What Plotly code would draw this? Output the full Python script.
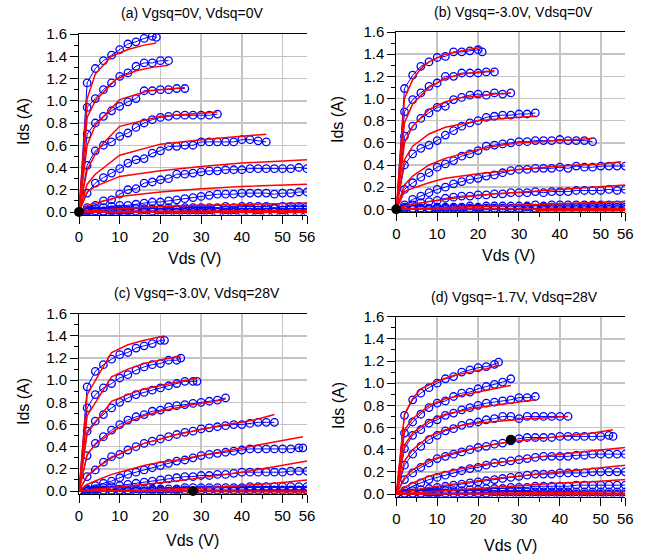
import plotly.graph_objects as go

# ---------------- data ----------------
VDS_GRID = [0, 2, 4, 6, 8, 10, 12, 14, 16, 18, 20, 22, 24, 26, 28, 30,
            32, 34, 36, 38, 40, 42, 44, 46, 48, 50, 52, 54, 56]
X_TICKS = [0, 10, 20, 30, 40, 50, 56]
Y_TICKS = [0.0, 0.2, 0.4, 0.6, 0.8, 1.0, 1.2, 1.4, 1.6]

TITLES = ["(a) Vgsq=0V, Vdsq=0V", "(b) Vgsq=-3.0V, Vdsq=0V",
          "(c) Vgsq=-3.0V, Vdsq=28V", "(d) Vgsq=-1.7V, Vdsq=28V"]
Q_VDS = [0, 0, 28, 28]
Q_IDS = [0.0, 0.0, 0.0, 0.49]

# ---- panel (a) ----
A_LAST = [19, 22, 26, 34, 46, 56, 56, 56, 56, 56]
A_MEAS = [
    [0, 1.16, 1.29, 1.36, 1.41, 1.46, 1.51, 1.53, 1.56, 1.58, 1.57],
    [0, 0.94, 1.02, 1.10, 1.16, 1.22, 1.25, 1.31, 1.34, 1.34, 1.36, 1.36],
    [0, 0.70, 0.80, 0.86, 0.91, 0.95, 0.99, 1.02, 1.09, 1.09, 1.10, 1.10, 1.11, 1.11],
    [0, 0.42, 0.55, 0.60, 0.63, 0.68, 0.71, 0.76, 0.80, 0.83, 0.85, 0.86, 0.87, 0.87,
     0.87, 0.87, 0.87, 0.88],
    [0, 0.17, 0.26, 0.31, 0.35, 0.39, 0.44, 0.47, 0.48, 0.53, 0.55, 0.59, 0.59, 0.60,
     0.60, 0.63, 0.63, 0.63, 0.63, 0.63, 0.65, 0.65, 0.64, 0.63],
    [0, 0.04, 0.06, 0.10, 0.11, 0.16, 0.20, 0.21, 0.26, 0.27, 0.29, 0.30, 0.34, 0.34,
     0.35, 0.36, 0.37, 0.37, 0.38, 0.38, 0.38, 0.39, 0.39, 0.39, 0.39, 0.39, 0.39, 0.40, 0.39],
    [0, 0.02, 0.03, 0.04, 0.05, 0.06, 0.06, 0.07, 0.08, 0.09, 0.09, 0.10, 0.11, 0.12,
     0.13, 0.14, 0.15, 0.16, 0.16, 0.16, 0.17, 0.17, 0.17, 0.17, 0.16, 0.17, 0.17, 0.18, 0.18],
    [0, 0.01, 0.01, 0.01, 0.02, 0.02, 0.02, 0.03, 0.03, 0.03, 0.03, 0.04, 0.03, 0.04,
     0.04, 0.04, 0.04, 0.04, 0.05, 0.04, 0.05, 0.05, 0.05, 0.05, 0.04, 0.05, 0.05, 0.05, 0.05],
    [0, 0.0, 0.01, 0.0, 0.01, 0.01, 0.01, 0.01, 0.02, 0.01, 0.02, 0.02, 0.02, 0.02,
     0.02, 0.02, 0.02, 0.03, 0.02, 0.02, 0.03, 0.03, 0.02, 0.03, 0.03, 0.02, 0.03, 0.03, 0.03],
    [0, 0.0, 0.0, 0.0, 0.0, 0.0, 0.0, 0.0, 0.0, 0.0, 0.0, 0.0, 0.0, 0.0,
     0.0, 0.0, 0.0, 0.0, 0.0, 0.0, 0.0, 0.0, 0.0, 0.0, 0.0, 0.0, 0.0, 0.0, 0.0],
]
A_MODEL_V = [
    [0, 2, 4, 8, 12, 16, 19],
    [0, 2, 4, 9, 14, 18, 22],
    [0, 2, 4, 10, 17, 26],
    [0, 2, 4, 6, 10, 20, 34],
    [0, 2, 4, 10, 20, 30, 46],
    [0, 2, 4, 10, 20, 30, 40, 56],
    [0, 2, 10, 20, 30, 40, 56],
    [0, 2, 10, 20, 30, 40, 56],
    [0, 10, 56],
    [0, 56],
]
A_MODEL_I = [
    [0, 1.02, 1.24, 1.40, 1.46, 1.50, 1.52],
    [0, 0.85, 1.00, 1.19, 1.27, 1.30, 1.32],
    [0, 0.60, 0.78, 1.01, 1.09, 1.12],
    [0, 0.38, 0.52, 0.62, 0.77, 0.86, 0.90],
    [0, 0.25, 0.34, 0.51, 0.61, 0.65, 0.70],
    [0, 0.18, 0.23, 0.32, 0.37, 0.41, 0.44, 0.47],
    [0, 0.06, 0.14, 0.18, 0.21, 0.23, 0.25],
    [0, 0.01, 0.03, 0.05, 0.06, 0.07, 0.08],
    [0, 0.005, 0.015],
    [0, -0.005],
]

# ---- panel (b) ----
B_LAST = [21, 24, 28, 34, 48, 56, 56, 56, 56, 56]
B_MEAS = [
    [0, 1.09, 1.21, 1.29, 1.33, 1.37, 1.38, 1.42, 1.42, 1.43, 1.44, 1.42],
    [0, 0.88, 0.99, 1.05, 1.11, 1.14, 1.20, 1.20, 1.23, 1.23, 1.23, 1.24, 1.24],
    [0, 0.66, 0.75, 0.82, 0.87, 0.92, 0.93, 0.99, 1.01, 1.03, 1.04, 1.03, 1.05, 1.04, 1.05],
    [0, 0.40, 0.50, 0.55, 0.58, 0.62, 0.67, 0.71, 0.75, 0.78, 0.80, 0.83, 0.84, 0.85,
     0.85, 0.86, 0.86, 0.87],
    [0, 0.18, 0.24, 0.29, 0.33, 0.38, 0.41, 0.44, 0.48, 0.50, 0.53, 0.57, 0.58, 0.59,
     0.60, 0.61, 0.61, 0.62, 0.62, 0.62, 0.63, 0.62, 0.62, 0.62, 0.61],
    [0, 0.04, 0.09, 0.12, 0.15, 0.18, 0.20, 0.23, 0.25, 0.27, 0.28, 0.30, 0.31, 0.33,
     0.35, 0.36, 0.36, 0.37, 0.37, 0.37, 0.38, 0.37, 0.39, 0.38, 0.38, 0.39, 0.39, 0.39, 0.39],
    [0, 0.02, 0.04, 0.06, 0.07, 0.08, 0.10, 0.11, 0.12, 0.12, 0.13, 0.13, 0.14, 0.14,
     0.15, 0.15, 0.15, 0.16, 0.15, 0.16, 0.16, 0.16, 0.17, 0.17, 0.17, 0.17, 0.18, 0.17, 0.18],
    [0, 0.01, 0.01, 0.01, 0.01, 0.02, 0.02, 0.02, 0.02, 0.03, 0.02, 0.03, 0.03, 0.03,
     0.03, 0.03, 0.03, 0.04, 0.03, 0.04, 0.04, 0.04, 0.04, 0.04, 0.04, 0.04, 0.04, 0.04, 0.04],
    [0, 0.0, 0.0, 0.01, 0.0, 0.01, 0.01, 0.01, 0.01, 0.01, 0.01, 0.01, 0.01, 0.01,
     0.01, 0.01, 0.02, 0.01, 0.02, 0.02, 0.02, 0.02, 0.02, 0.02, 0.02, 0.02, 0.02, 0.02, 0.02],
    [0, 0.0, 0.0, 0.0, 0.0, 0.0, 0.0, 0.0, 0.0, 0.0, 0.0, 0.0, 0.0, 0.0,
     0.0, 0.0, 0.0, 0.0, 0.0, 0.0, 0.0, 0.0, 0.0, 0.0, 0.0, 0.0, 0.0, 0.0, 0.0],
]
B_MODEL_V = [
    [0, 2, 4, 6, 8, 12, 16, 20.5],
    [0, 2, 4, 8, 12, 16, 20, 24],
    [0, 2, 4, 8, 12, 16, 20, 24, 28],
    [0, 2, 4, 8, 12, 16, 20, 26, 34],
    [0, 2, 4, 8, 12, 16, 20, 24, 30, 40, 48],
    [0, 2, 4, 8, 12, 16, 20, 30, 40, 50, 55],
    [0, 2, 8, 16, 24, 32, 40, 48, 56],
    [0, 8, 16, 24, 32, 40, 48, 56],
    [0, 56],
    [34, 56],
]
B_MODEL_I = [
    [0, 1.00, 1.17, 1.27, 1.33, 1.40, 1.43, 1.46],
    [0, 0.78, 0.95, 1.10, 1.18, 1.22, 1.24, 1.25],
    [0, 0.60, 0.75, 0.90, 0.97, 1.01, 1.02, 1.04, 1.05],
    [0, 0.45, 0.57, 0.68, 0.74, 0.77, 0.80, 0.82, 0.84],
    [0, 0.22, 0.30, 0.40, 0.46, 0.50, 0.54, 0.57, 0.60, 0.62, 0.64],
    [0, 0.16, 0.19, 0.24, 0.28, 0.30, 0.32, 0.36, 0.39, 0.41, 0.43],
    [0, 0.03, 0.07, 0.11, 0.14, 0.16, 0.18, 0.20, 0.22],
    [0, 0.01, 0.02, 0.03, 0.04, 0.05, 0.06, 0.07],
    [0, 0.005],
    [-0.01, -0.008],
]

# ---- panel (c) ----
C_LAST = [21, 25, 29, 36, 48, 55, 56, 56, 56, 56]
C_MEAS = [
    [0, 0.94, 1.08, 1.14, 1.19, 1.23, 1.25, 1.29, 1.31, 1.33, 1.36, 1.36],
    [0, 0.75, 0.87, 0.93, 0.97, 1.02, 1.05, 1.09, 1.12, 1.14, 1.15, 1.18, 1.18, 1.20],
    [0, 0.54, 0.63, 0.69, 0.75, 0.80, 0.84, 0.87, 0.89, 0.91, 0.93, 0.95, 0.97, 0.99,
     0.99, 0.99],
    [0, 0.32, 0.43, 0.49, 0.55, 0.60, 0.64, 0.67, 0.69, 0.72, 0.73, 0.76, 0.77, 0.78,
     0.79, 0.80, 0.81, 0.82, 0.84],
    [0, 0.13, 0.19, 0.26, 0.31, 0.33, 0.37, 0.40, 0.43, 0.45, 0.47, 0.49, 0.51, 0.53,
     0.54, 0.56, 0.57, 0.58, 0.59, 0.60, 0.60, 0.61, 0.62, 0.62, 0.62],
    [0, 0.02, 0.05, 0.07, 0.09, 0.12, 0.15, 0.17, 0.19, 0.21, 0.23, 0.25, 0.27, 0.28,
     0.30, 0.32, 0.33, 0.34, 0.35, 0.36, 0.37, 0.38, 0.38, 0.38, 0.38, 0.38, 0.38, 0.39, 0.39],
    [0, 0.01, 0.02, 0.03, 0.04, 0.05, 0.06, 0.07, 0.08, 0.09, 0.10, 0.11, 0.12, 0.13,
     0.13, 0.14, 0.14, 0.15, 0.15, 0.16, 0.17, 0.17, 0.17, 0.17, 0.17, 0.17, 0.18, 0.18, 0.18],
    [0, 0.0, 0.01, 0.01, 0.01, 0.01, 0.01, 0.02, 0.02, 0.02, 0.02, 0.02, 0.02, 0.03,
     0.03, 0.03, 0.03, 0.03, 0.03, 0.03, 0.03, 0.04, 0.04, 0.04, 0.04, 0.04, 0.04, 0.04, 0.04],
    [0, 0.0, 0.0, 0.0, 0.0, 0.0, 0.0, 0.0, 0.0, 0.01, 0.01, 0.0, 0.01, 0.01,
     0.0, 0.01, 0.01, 0.01, 0.01, 0.01, 0.01, 0.01, 0.01, 0.01, 0.01, 0.01, 0.01, 0.01, 0.01],
    [0, 0.0, 0.0, 0.0, 0.0, 0.0, 0.0, 0.0, 0.0, 0.0, 0.0, 0.0, 0.0, 0.0,
     0.0, 0.0, 0.0, 0.0, 0.0, 0.0, 0.0, 0.0, 0.0, 0.0, 0.0, 0.0, 0.0, 0.0, 0.0],
]
C_MODEL_V = [
    [0, 2, 8, 12, 16, 21],
    [0, 2, 8, 12, 16, 20, 25],
    [0, 2, 8, 12, 16, 20, 24, 29],
    [0, 2, 4, 8, 12, 16, 20, 24, 28, 32, 36],
    [0, 2, 4, 8, 12, 16, 20, 24, 28, 32, 36, 40, 44, 48],
    [0, 2, 4, 8, 12, 16, 20, 24, 30, 36, 42, 48, 55],
    [0, 2, 8, 16, 24, 32, 40, 48, 56],
    [0, 8, 16, 24, 32, 40, 48, 56],
    [0, 56],
    [0, 56],
]
C_MODEL_I = [
    [0, 0.87, 1.25, 1.32, 1.36, 1.40],
    [0, 0.68, 1.03, 1.10, 1.15, 1.18, 1.22],
    [0, 0.52, 0.81, 0.87, 0.92, 0.95, 0.98, 1.02],
    [0, 0.33, 0.42, 0.53, 0.62, 0.68, 0.72, 0.75, 0.78, 0.80, 0.83],
    [0, 0.14, 0.20, 0.30, 0.37, 0.43, 0.47, 0.51, 0.54, 0.57, 0.60, 0.62, 0.65, 0.69],
    [0, 0.06, 0.09, 0.15, 0.19, 0.23, 0.26, 0.28, 0.32, 0.36, 0.40, 0.44, 0.49],
    [0, 0.01, 0.03, 0.06, 0.09, 0.13, 0.17, 0.22, 0.27],
    [0, 0.0, 0.01, 0.02, 0.03, 0.05, 0.07, 0.10],
    [0, 0.0],
    [0, -0.008],
]

# ---- panel (d) ----
D_LAST = [25, 28, 34, 42, 53, 56, 56, 56, 56, 56]
D_MEAS = [
    [0, 0.71, 0.85, 0.91, 0.96, 1.00, 1.04, 1.06, 1.10, 1.12, 1.14, 1.15, 1.17, 1.19],
    [0, 0.55, 0.65, 0.72, 0.78, 0.82, 0.84, 0.88, 0.91, 0.92, 0.95, 0.97, 0.99, 1.01, 1.04],
    [0, 0.41, 0.53, 0.58, 0.64, 0.67, 0.71, 0.73, 0.76, 0.78, 0.80, 0.82, 0.83, 0.84,
     0.85, 0.87, 0.87, 0.88],
    [0, 0.26, 0.36, 0.43, 0.49, 0.53, 0.57, 0.59, 0.62, 0.64, 0.65, 0.67, 0.68, 0.70,
     0.70, 0.68, 0.70, 0.70, 0.70, 0.70, 0.70, 0.70],
    [0, 0.13, 0.19, 0.24, 0.28, 0.32, 0.34, 0.36, 0.38, 0.40, 0.42, 0.43, 0.45, 0.46,
     0.48, 0.50, 0.51, 0.51, 0.51, 0.51, 0.52, 0.52, 0.52, 0.52, 0.52, 0.52, 0.53, 0.52],
    [0, 0.03, 0.07, 0.10, 0.13, 0.15, 0.17, 0.19, 0.21, 0.23, 0.24, 0.26, 0.28, 0.29,
     0.30, 0.31, 0.32, 0.33, 0.34, 0.34, 0.34, 0.34, 0.35, 0.35, 0.36, 0.36, 0.36, 0.36, 0.36],
    [0, 0.01, 0.03, 0.04, 0.05, 0.06, 0.07, 0.08, 0.09, 0.10, 0.11, 0.12, 0.13, 0.14,
     0.15, 0.16, 0.17, 0.18, 0.18, 0.18, 0.19, 0.19, 0.19, 0.19, 0.20, 0.20, 0.20, 0.20, 0.20],
    [0, 0.0, 0.01, 0.01, 0.02, 0.02, 0.03, 0.03, 0.03, 0.04, 0.04, 0.05, 0.05, 0.05,
     0.06, 0.06, 0.06, 0.07, 0.07, 0.07, 0.07, 0.07, 0.08, 0.08, 0.08, 0.08, 0.08, 0.08, 0.08],
    [0, 0.0, 0.0, 0.0, 0.01, 0.01, 0.01, 0.01, 0.01, 0.01, 0.01, 0.01, 0.02, 0.02,
     0.02, 0.02, 0.02, 0.02, 0.02, 0.02, 0.02, 0.02, 0.02, 0.02, 0.02, 0.02, 0.02, 0.02, 0.02],
    [0, 0.0, 0.0, 0.0, 0.0, 0.0, 0.0, 0.0, 0.0, 0.0, 0.0, 0.0, 0.0, 0.0,
     0.0, 0.0, 0.0, 0.0, 0.0, 0.0, 0.0, 0.0, 0.0, 0.0, 0.0, 0.0, 0.0, 0.0, 0.0],
]
D_MODEL_V = [
    [0, 2, 4, 6, 10, 14, 18, 22, 25],
    [0, 2, 4, 8, 12, 16, 20, 24, 28],
    [0, 2, 4, 8, 12, 16, 20, 24, 28, 34],
    [0, 2, 4, 8, 12, 16, 20, 26, 32, 42],
    [0, 2, 4, 8, 12, 16, 20, 24, 28, 32, 40, 48, 53],
    [0, 2, 4, 8, 12, 16, 20, 24, 28, 32, 40, 48, 56],
    [0, 2, 8, 16, 24, 32, 40, 48, 56],
    [0, 8, 16, 24, 32, 40, 48, 56],
    [0, 56],
    [0, 56],
]
D_MODEL_I = [
    [0, 0.72, 0.86, 0.95, 1.02, 1.07, 1.10, 1.13, 1.16],
    [0, 0.58, 0.68, 0.80, 0.86, 0.89, 0.92, 0.95, 0.98],
    [0, 0.44, 0.55, 0.66, 0.72, 0.75, 0.78, 0.80, 0.82, 0.85],
    [0, 0.30, 0.40, 0.52, 0.58, 0.62, 0.64, 0.66, 0.68, 0.70],
    [0, 0.15, 0.22, 0.30, 0.35, 0.39, 0.42, 0.45, 0.47, 0.49, 0.52, 0.55, 0.58],
    [0, 0.06, 0.10, 0.16, 0.20, 0.23, 0.26, 0.28, 0.30, 0.32, 0.36, 0.39, 0.42],
    [0, 0.02, 0.06, 0.10, 0.14, 0.17, 0.20, 0.23, 0.26],
    [0, 0.02, 0.04, 0.06, 0.08, 0.10, 0.11, 0.13],
    [0, 0.02],
    [0, 0.0],
]

# ---------------- layout geometry (pixels) ----------------
W, H = 653, 557
BOXES = [(79, 307, 34, 214.8), (396.3, 625.3, 32, 212.1),
         (79, 307, 313.7, 493.8), (396.3, 625.3, 316.7, 496.8)]
TITLE_POS = [(193, 13), (513, 12), (197, 293), (514, 297)]
XTITLE_POS = [(194, 258), (508, 255), (193, 540), (510, 545)]
YTITLE_POS = [(23, 122), (337, 120), (23, 402), (338, 406)]

FONT = "Liberation Sans, Arial, sans-serif"
BLUE = "#0000ff"
RED = "#ff0000"

PANELS = [
    (A_LAST, A_MEAS, A_MODEL_V, A_MODEL_I),
    (B_LAST, B_MEAS, B_MODEL_V, B_MODEL_I),
    (C_LAST, C_MEAS, C_MODEL_V, C_MODEL_I),
    (D_LAST, D_MEAS, D_MODEL_V, D_MODEL_I),
]

fig = go.Figure()
annotations = []
layout = dict(
    width=W, height=H, autosize=False, margin=dict(l=0, r=0, t=0, b=0, pad=0),
    paper_bgcolor="white", plot_bgcolor="white", showlegend=False,
    font=dict(family=FONT, color="black", size=15),
)

for p, (last, meas, mv, mi) in enumerate(PANELS):
    sfx = "" if p == 0 else str(p + 1)
    xref, yref = "x" + sfx, "y" + sfx
    for L, vals in zip(last, meas):
        vds = [g for g in VDS_GRID if g < L] + [L]
        n = min(len(vds), len(vals))
        fig.add_trace(go.Scatter(
            x=vds[:n], y=vals[:n], xaxis=xref, yaxis=yref, mode="lines+markers",
            line=dict(color=BLUE, width=1),
            marker=dict(symbol="circle-open", size=7.5, color=BLUE, line=dict(width=1.3)),
            hoverinfo="skip"))
    for v, i in zip(mv, mi):
        fig.add_trace(go.Scatter(
            x=v, y=i, xaxis=xref, yaxis=yref, mode="lines",
            line=dict(color=RED, width=1.5), hoverinfo="skip"))
    fig.add_trace(go.Scatter(
        x=[Q_VDS[p]], y=[Q_IDS[p]], xaxis=xref, yaxis=yref, mode="markers",
        marker=dict(symbol="circle", size=10, color="black"), hoverinfo="skip",
        cliponaxis=False))

    l, r, t, b = BOXES[p]
    layout["xaxis" + sfx] = dict(
        domain=[l / W, r / W], range=[0, 56], anchor=yref, automargin=False,
        tickmode="array", tickvals=X_TICKS, ticktext=[str(v) for v in X_TICKS],
        ticks="outside", ticklen=8, tickwidth=1, tickcolor="black",
        showgrid=True, gridcolor="#c4c4c4", gridwidth=1.5,
        showline=True, linecolor="black", linewidth=1, mirror=True,
        zeroline=False, tickfont=dict(size=15, family=FONT),
        minor=dict(dtick=5, tick0=0, ticks="outside", ticklen=4, tickcolor="black",
                   showgrid=False),
    )
    layout["yaxis" + sfx] = dict(
        domain=[1 - b / H, 1 - t / H], range=[-0.025, 1.6], anchor=xref, automargin=False,
        tickmode="array", tickvals=Y_TICKS, ticktext=["%.1f" % v for v in Y_TICKS],
        ticks="outside", ticklen=8, tickwidth=1, tickcolor="black",
        showgrid=True, gridcolor="#c4c4c4", gridwidth=1.5,
        showline=True, linecolor="black", linewidth=1, mirror=False,
        zeroline=False, tickfont=dict(size=15, family=FONT),
        minor=dict(dtick=0.1, tick0=0, ticks="outside", ticklen=4, tickcolor="black",
                   showgrid=False),
    )
    tx, ty = TITLE_POS[p]
    annotations.append(dict(text=TITLES[p], x=tx / W, y=1 - ty / H, xref="paper",
                            yref="paper", showarrow=False, xanchor="center",
                            yanchor="middle", font=dict(size=14, family=FONT)))
    xx, xy = XTITLE_POS[p]
    annotations.append(dict(text="Vds (V)", x=xx / W, y=1 - xy / H, xref="paper",
                            yref="paper", showarrow=False, xanchor="center",
                            yanchor="middle", font=dict(size=16, family=FONT)))
    yx, yy = YTITLE_POS[p]
    annotations.append(dict(text="Ids (A)", x=yx / W, y=1 - yy / H, xref="paper",
                            yref="paper", showarrow=False, xanchor="center",
                            yanchor="middle", textangle=-90,
                            font=dict(size=16, family=FONT)))

layout["annotations"] = annotations
fig.update_layout(**layout)
fig.write_html("out.html",
               config={"displayModeBar": False, "staticPlot": True},
               post_script="document.body.style.margin='0';"
                           "document.body.style.overflow='hidden';")
